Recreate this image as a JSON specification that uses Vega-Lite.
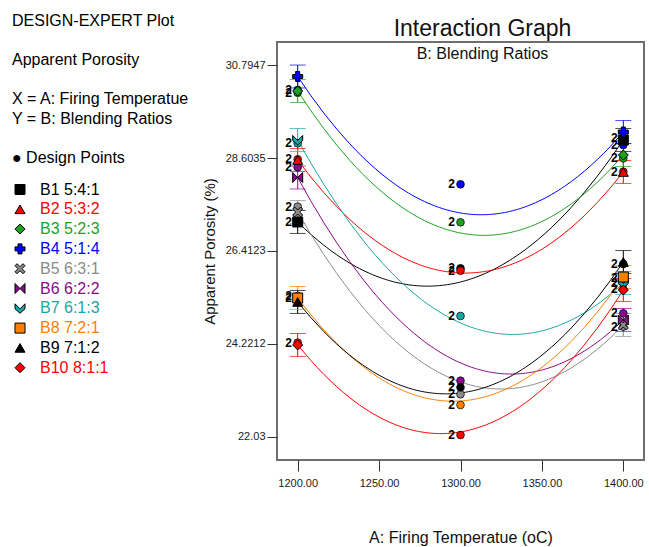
{
  "$schema": "https://vega.github.io/schema/vega-lite/v6.json",
  "width": 367,
  "height": 418,
  "autosize": {"type": "none"},
  "padding": {"left": 277, "top": 42, "right": 5, "bottom": 87},
  "background": "white",
  "config": {"font": "Liberation Sans", "view": {"stroke": "#6e6e6e", "strokeWidth": 2}},
  "title": {
    "text": "Interaction Graph",
    "subtitle": "B: Blending Ratios",
    "fontSize": 23,
    "fontWeight": "normal",
    "font": "Liberation Sans",
    "color": "#111111",
    "subtitleFontSize": 16,
    "subtitleFont": "Liberation Sans",
    "subtitleColor": "#111111",
    "anchor": "middle",
    "frame": "group",
    "offset": -49,
    "subtitlePadding": 5,
    "dx": 22
  },
  "datasets": {
    "pred": [
      {"series": "B1 5:4:1", "x": 1200, "v": 27.096, "lo": 26.826, "hi": 27.366},
      {"series": "B1 5:4:1", "x": 1300, "v": 25.682, "lo": null, "hi": null},
      {"series": "B1 5:4:1", "x": 1400, "v": 29.028, "lo": 28.758, "hi": 29.298},
      {"series": "B2 5:3:2", "x": 1200, "v": 28.556, "lo": 28.286, "hi": 28.826},
      {"series": "B2 5:3:2", "x": 1300, "v": 25.894, "lo": null, "hi": null},
      {"series": "B2 5:3:2", "x": 1400, "v": 28.274, "lo": 28.004, "hi": 28.544},
      {"series": "B3 5:2:3", "x": 1200, "v": 30.182, "lo": 29.912, "hi": 30.452},
      {"series": "B3 5:2:3", "x": 1300, "v": 26.836, "lo": null, "hi": null},
      {"series": "B3 5:2:3", "x": 1400, "v": 28.674, "lo": 28.404, "hi": 28.944},
      {"series": "B4 5:1:4", "x": 1200, "v": 30.524, "lo": 30.254, "hi": 30.794},
      {"series": "B4 5:1:4", "x": 1300, "v": 27.308, "lo": null, "hi": null},
      {"series": "B4 5:1:4", "x": 1400, "v": 29.216, "lo": 28.946, "hi": 29.486},
      {"series": "B5 6:3:1", "x": 1200, "v": 27.331, "lo": 27.061, "hi": 27.601},
      {"series": "B5 6:3:1", "x": 1300, "v": 23.326, "lo": null, "hi": null},
      {"series": "B5 6:3:1", "x": 1400, "v": 24.669, "lo": 24.399, "hi": 24.939},
      {"series": "B6 6:2:2", "x": 1200, "v": 28.144, "lo": 27.874, "hi": 28.414},
      {"series": "B6 6:2:2", "x": 1300, "v": 23.774, "lo": null, "hi": null},
      {"series": "B6 6:2:2", "x": 1400, "v": 24.787, "lo": 24.517, "hi": 25.057},
      {"series": "B7 6:1:3", "x": 1200, "v": 29.028, "lo": 28.758, "hi": 29.298},
      {"series": "B7 6:1:3", "x": 1300, "v": 24.716, "lo": null, "hi": null},
      {"series": "B7 6:1:3", "x": 1400, "v": 25.658, "lo": 25.388, "hi": 25.928},
      {"series": "B8 7:2:1", "x": 1200, "v": 25.305, "lo": 25.035, "hi": 25.575},
      {"series": "B8 7:2:1", "x": 1300, "v": 22.878, "lo": null, "hi": null},
      {"series": "B8 7:2:1", "x": 1400, "v": 25.799, "lo": 25.529, "hi": 26.069},
      {"series": "B9 7:1:2", "x": 1200, "v": 25.211, "lo": 24.941, "hi": 25.481},
      {"series": "B9 7:1:2", "x": 1300, "v": 23.067, "lo": null, "hi": null},
      {"series": "B9 7:1:2", "x": 1400, "v": 26.153, "lo": 25.883, "hi": 26.423},
      {"series": "B10 8:1:1", "x": 1200, "v": 24.198, "lo": 23.928, "hi": 24.468},
      {"series": "B10 8:1:1", "x": 1300, "v": 22.148, "lo": null, "hi": null},
      {"series": "B10 8:1:1", "x": 1400, "v": 25.493, "lo": 25.223, "hi": 25.763}
    ],
    "design": [
      {"series": "B1 5:4:1", "x": 1200, "v": 27.103},
      {"series": "B1 5:4:1", "x": 1300, "v": 26.005},
      {"series": "B1 5:4:1", "x": 1400, "v": 29.075},
      {"series": "B2 5:3:2", "x": 1200, "v": 28.573},
      {"series": "B2 5:3:2", "x": 1300, "v": 25.948},
      {"series": "B2 5:3:2", "x": 1400, "v": 28.281},
      {"series": "B3 5:2:3", "x": 1200, "v": 30.142},
      {"series": "B3 5:2:3", "x": 1300, "v": 27.088},
      {"series": "B3 5:2:3", "x": 1400, "v": 28.596},
      {"series": "B4 5:1:4", "x": 1200, "v": 30.206},
      {"series": "B4 5:1:4", "x": 1300, "v": 27.984},
      {"series": "B4 5:1:4", "x": 1400, "v": 28.91},
      {"series": "B5 6:3:1", "x": 1200, "v": 27.456},
      {"series": "B5 6:3:1", "x": 1300, "v": 23.036},
      {"series": "B5 6:3:1", "x": 1400, "v": 24.63},
      {"series": "B6 6:2:2", "x": 1200, "v": 28.384},
      {"series": "B6 6:2:2", "x": 1300, "v": 23.356},
      {"series": "B6 6:2:2", "x": 1400, "v": 24.944},
      {"series": "B7 6:1:3", "x": 1200, "v": 28.95},
      {"series": "B7 6:1:3", "x": 1300, "v": 24.881},
      {"series": "B7 6:1:3", "x": 1400, "v": 25.651},
      {"series": "B8 7:2:1", "x": 1200, "v": 25.352},
      {"series": "B8 7:2:1", "x": 1300, "v": 22.784},
      {"series": "B8 7:2:1", "x": 1400, "v": 25.769},
      {"series": "B9 7:1:2", "x": 1200, "v": 25.3},
      {"series": "B9 7:1:2", "x": 1300, "v": 23.201},
      {"series": "B9 7:1:2", "x": 1400, "v": 26.106},
      {"series": "B10 8:1:1", "x": 1200, "v": 24.252},
      {"series": "B10 8:1:1", "x": 1300, "v": 22.077},
      {"series": "B10 8:1:1", "x": 1400, "v": 25.51}
    ]
  },
  "encoding": {
    "x": {
      "field": "x",
      "type": "quantitative",
      "scale": {"domain": [1187.3, 1412.7], "nice": false, "zero": false},
      "axis": {
        "values": [1200, 1250, 1300, 1350, 1400],
        "format": ".2f",
        "grid": false,
        "domain": false,
        "tickSize": 11,
        "tickColor": "#333333",
        "labelFontSize": 11,
        "labelColor": "#222222",
        "labelPadding": 6,
        "title": "A: Firing Temperatue (oC)",
        "titleFontSize": 16,
        "titleFontWeight": "normal",
        "titleColor": "#111111",
        "titlePadding": 41
      }
    },
    "y": {
      "field": "v",
      "type": "quantitative",
      "scale": {"domain": [21.487, 31.337], "nice": false, "zero": false},
      "axis": {
        "values": [22.03, 24.2212, 26.4123, 28.6035, 30.7947],
        "format": ".6~r",
        "grid": false,
        "domain": false,
        "tickSize": 10,
        "tickColor": "#333333",
        "labelFontSize": 11,
        "labelColor": "#222222",
        "labelPadding": 2,
        "title": "Apparent Porosity (%)",
        "titleFontSize": 15,
        "titleFontWeight": "normal",
        "titleColor": "#111111",
        "titlePadding": 8
      }
    }
  },
  "resolve": {"legend": {"color": "independent", "shape": "independent"}},
  "layer": [
    {
      "data": {"name": "pred"},
      "transform": [
        {"regression": "v", "on": "x", "groupby": ["series"], "method": "poly", "order": 2, "extent": [1200, 1400]}
      ],
      "mark": {"type": "line", "strokeWidth": 1},
      "encoding": {
        "color": {"field": "series", "type": "nominal", "legend": null,
          "scale": {"domain": ["B1 5:4:1","B2 5:3:2","B3 5:2:3","B4 5:1:4","B5 6:3:1","B6 6:2:2","B7 6:1:3","B8 7:2:1","B9 7:1:2","B10 8:1:1"],
                    "range": ["#000000","#ff0000","#1fa01f","#0000ff","#8c8c8c","#8b0a8b","#1aa6a6","#ff8000","#000000","#ff0000"]}}
      }
    },
    {
      "data": {"name": "pred"},
      "transform": [{"filter": "datum.lo != null"}],
      "mark": {"type": "rule", "strokeWidth": 1},
      "encoding": {
        "y": {"field": "lo", "type": "quantitative"},
        "y2": {"field": "hi"},
        "color": {"field": "series", "type": "nominal", "legend": null}
      }
    },
    {
      "data": {"name": "pred"},
      "transform": [{"filter": "datum.lo != null"}, {"fold": ["lo", "hi"], "as": ["k", "cap"]}],
      "mark": {"type": "tick", "orient": "horizontal", "size": 16, "thickness": 1},
      "encoding": {
        "y": {"field": "cap", "type": "quantitative"},
        "color": {"field": "series", "type": "nominal", "legend": null}
      }
    },
    {
      "data": {"name": "design"},
      "mark": {"type": "point", "shape": "circle", "filled": true, "size": 60, "stroke": "#000000", "strokeWidth": 0.7, "opacity": 1},
      "encoding": {
        "color": {"field": "series", "type": "nominal", "legend": null}
      }
    },
    {
      "data": {"name": "design"},
      "mark": {"type": "text", "text": "2", "dx": -9, "fontSize": 12, "fontWeight": "bold", "color": "#000000", "align": "center", "baseline": "middle"},
      "encoding": {}
    },
    {
      "data": {"name": "pred"},
      "transform": [{"filter": "datum.lo != null"}],
      "mark": {"type": "point", "filled": true, "size": 100, "stroke": "#000000", "strokeWidth": 1, "opacity": 1},
      "encoding": {
        "color": {"field": "series", "type": "nominal",
          "legend": {
            "title": ["DESIGN-EXPERT Plot", "\u200b", "Apparent Porosity", "\u200b", "X = A: Firing Temperatue", "Y = B: Blending Ratios", "\u200b", "●   Design Points"],
            "orient": "none", "legendX": -265, "legendY": -29, "padding": 0, "offset": 0,
            "titleFont": "Liberation Sans", "titleFontSize": 16, "titleFontWeight": "normal", "titleColor": "#000000", "titleLineHeight": 19.5, "titlePadding": 16, "titleLimit": 260,
            "labelFont": "Liberation Sans", "labelFontSize": 16, "labelOffset": 12,
            "labelColor": {"expr": "scale('color', datum.value)"},
            "symbolSize": 100, "symbolStrokeColor": "#000000", "symbolStrokeWidth": 1, "rowPadding": 3.8
          }},
        "shape": {"field": "series", "type": "nominal",
          "scale": {"domain": ["B1 5:4:1","B2 5:3:2","B3 5:2:3","B4 5:1:4","B5 6:3:1","B6 6:2:2","B7 6:1:3","B8 7:2:1","B9 7:1:2","B10 8:1:1"],
                    "range": ["square", "triangle-up", "diamond", "cross",
                              "M-1,-0.6L-0.6,-1L0,-0.4L0.6,-1L1,-0.6L0.4,0L1,0.6L0.6,1L0,0.4L-0.6,1L-1,0.6L-0.4,0Z",
                              "M-1,-1L0,0L-1,1ZM1,-1L0,0L1,1Z",
                              "M-1,-0.9L0,0.1L1,-0.9L1,0.1L0,1L-1,0.1Z",
                              "square", "triangle-up", "diamond"]},
          "legend": {
            "title": ["DESIGN-EXPERT Plot", "\u200b", "Apparent Porosity", "\u200b", "X = A: Firing Temperatue", "Y = B: Blending Ratios", "\u200b", "●   Design Points"],
            "orient": "none", "legendX": -265, "legendY": -29, "padding": 0, "offset": 0,
            "titleFont": "Liberation Sans", "titleFontSize": 16, "titleFontWeight": "normal", "titleColor": "#000000", "titleLineHeight": 19.5, "titlePadding": 16, "titleLimit": 260,
            "labelFont": "Liberation Sans", "labelFontSize": 16, "labelOffset": 12,
            "labelColor": {"expr": "scale('color', datum.value)"},
            "symbolSize": 100, "symbolStrokeColor": "#000000", "symbolStrokeWidth": 1, "rowPadding": 3.8
          }}
      }
    }
  ]
}
